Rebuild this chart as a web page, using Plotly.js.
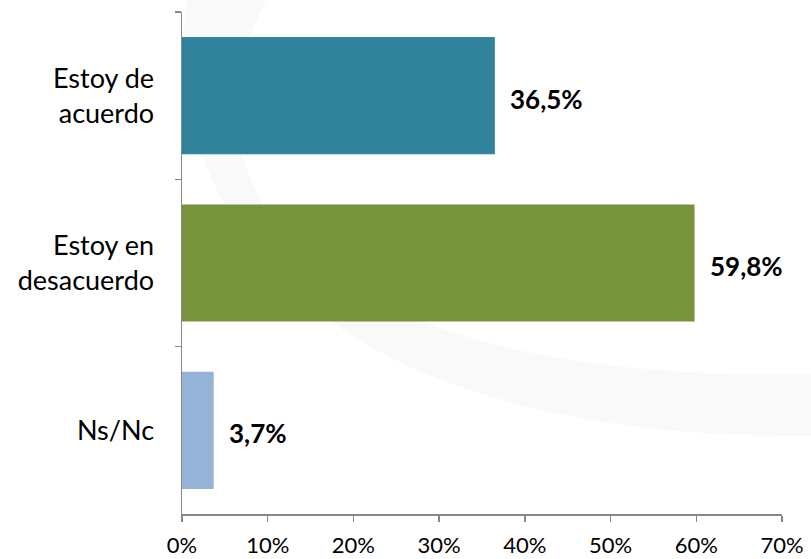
<!DOCTYPE html>
<html>
<head>
<meta charset="utf-8">
<script src="https://cdn.plot.ly/plotly-3.0.1.min.js"></script>
<style>html,body{margin:0;padding:0;background:#fff;}#chart{width:811px;height:559px;}</style>
</head>
<body>
<div id="chart"></div>
<script>
const categories = ["Estoy de<br>acuerdo", "Estoy en<br>desacuerdo", "Ns/Nc"];
const values = [0.365, 0.598, 0.037];
const barColors = ["#31849B", "#77933C", "#95B3D7"];
const xTickVals = [0, 0.1, 0.2, 0.3, 0.4, 0.5, 0.6, 0.7];
const xTickText = ["0%", "10%", "20%", "30%", "40%", "50%", "60%", "70%"];

const FONT = "Lato, 'Open Sans', sans-serif";

const trace = {
  type: "bar",
  orientation: "h",
  y: categories,
  x: values,
  marker: { color: barColors, line: { width: 0 } },
  hoverinfo: "skip",
  cliponaxis: false
};

const annotations = values.map((v, i) => ({
  x: v, y: categories[i], xref: "x", yref: "y",
  text: "<b>" + (v * 100).toFixed(1).replace(".", ",") + "%</b>",
  showarrow: false, xanchor: "left", xshift: 13, yshift: -3,
  font: { family: FONT, size: 26, color: "#000" }
}));

// faint decorative watermark crescent (background)
const L = 182, T = 12, W = 600, H = 502;
function px(x){ return (x - L) / W; }
function py(y){ return 1 - (y - T) / H; }
const wm = {
  type: "path", xref: "paper", yref: "paper", layer: "below",
  fillcolor: "#f9f9f9", line: { width: 0 },
  path: "M" + px(187) + "," + py(-5) +
        " C" + px(160) + "," + py(230) + " " + px(330) + "," + py(440) + " " + px(815) + "," + py(436) +
        " L" + px(815) + "," + py(374) +
        " C" + px(320) + "," + py(385) + " " + px(160) + "," + py(190) + " " + px(269) + "," + py(-5) + " Z"
};

const layout = {
  width: 811, height: 559,
  margin: { l: 182, r: 29, t: 12, b: 45 },
  paper_bgcolor: "#ffffff", plot_bgcolor: "rgba(0,0,0,0)",
  separators: ",.",
  showlegend: false,
  bargap: 0.3,
  font: { family: FONT, size: 27, color: "#000" },
  xaxis: {
    range: [0, 0.7], tickvals: xTickVals, ticktext: xTickText,
    showgrid: false, zeroline: false,
    showline: true, linecolor: "#868686", linewidth: 1.5,
    ticks: "outside", ticklen: 6, tickcolor: "#868686", tickwidth: 1.5,
    ticklabelstandoff: 5,
    tickfont: { family: FONT, size: 22, color: "#000" },
    fixedrange: true
  },
  yaxis: {
    type: "category", autorange: "reversed",
    showgrid: false, zeroline: false,
    showline: true, linecolor: "#868686", linewidth: 1.5,
    ticks: "outside", ticklen: 6, tickcolor: "#868686", tickwidth: 1.5,
    tickson: "boundaries",
    ticklabelstandoff: 21,
    tickfont: { family: FONT, size: 27, color: "#000" },
    fixedrange: true
  },
  annotations: annotations,
  shapes: [wm]
};

Plotly.newPlot("chart", [trace], layout, { displayModeBar: false, staticPlot: true });
</script>
</body>
</html>
